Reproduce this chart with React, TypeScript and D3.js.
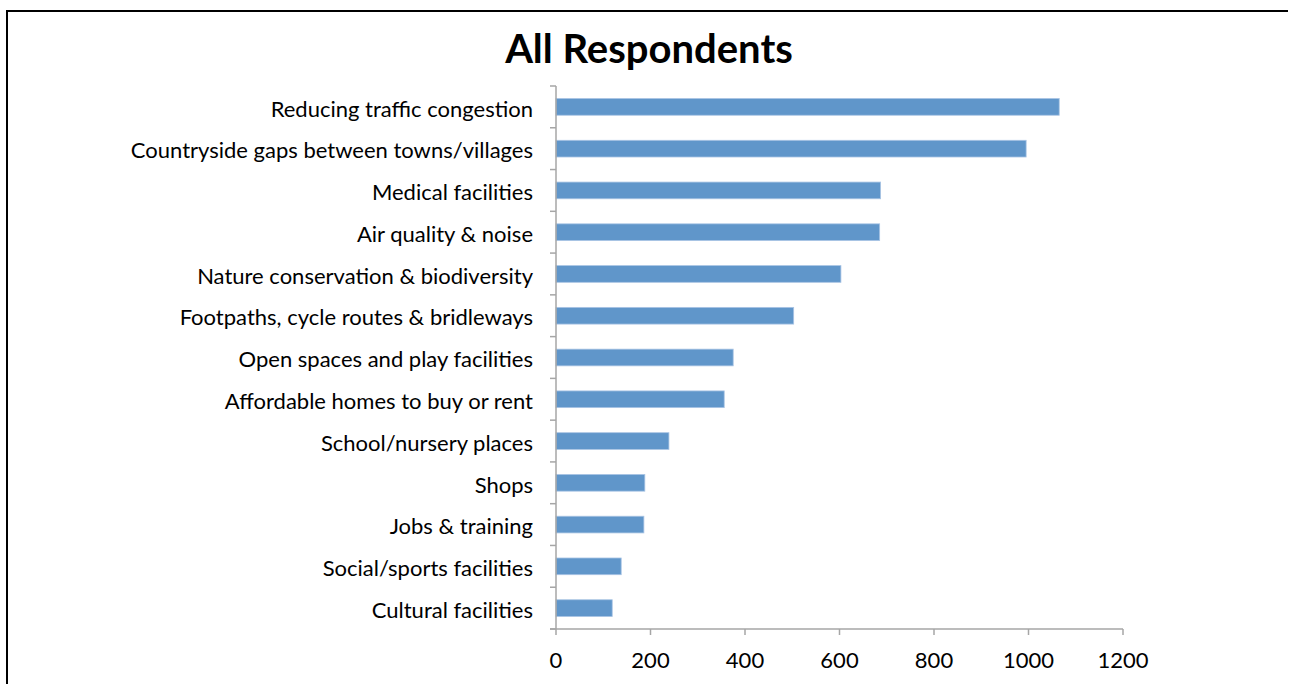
import React from "react";
import * as d3 from "d3";

const categories = [
  "Reducing traffic congestion",
  "Countryside gaps between towns/villages",
  "Medical facilities",
  "Air quality & noise",
  "Nature conservation & biodiversity",
  "Footpaths, cycle routes & bridleways",
  "Open spaces and play facilities",
  "Affordable homes to buy or rent",
  "School/nursery places",
  "Shops",
  "Jobs & training",
  "Social/sports facilities",
  "Cultural facilities",
];
const values = [1065, 995, 687, 685, 603, 503, 375, 356, 239, 188, 186, 138, 119];
const xTicks = [0, 200, 400, 600, 800, 1000, 1200];
const title = "All Respondents";

const W = 1290;
const H = 684;
const FONT = "Lato, 'Open Sans', sans-serif";

export default function App() {
  const x = d3.scaleLinear().domain([0, 1200]).range([556, 1123]);
  const y = d3
    .scaleBand<string>()
    .domain(categories)
    .range([86, 629])
    .paddingInner(0.6)
    .paddingOuter(0.3);
  const bandStep = y.step();
  const axisColor = "#A6A6A6";
  const boundaries = d3.range(categories.length + 1).map((i) => 629 - i * bandStep);

  return (
    <svg
      width={W}
      height={H}
      style={{ position: "absolute", left: 0, top: 0, background: "#fff" }}
      fontFamily={FONT}
    >
      <path d={`M7,${H} V11 H1288`} fill="none" stroke="#000" strokeWidth={2} />
      <text x={649} y={63} textAnchor="middle" fontSize={40} fontWeight={700} fill="#000">
        {title}
      </text>
      {categories.map((c, i) => (
        <g key={c}>
          <rect
            x={x(0)}
            y={y(c)!}
            width={x(values[i]) - x(0)}
            height={y.bandwidth()}
            fill="#6096CA"
            stroke="#A9C4E4"
            strokeWidth={0.8}
          />
          <text
            x={533}
            y={y(c)! + y.bandwidth() / 2 + 2}
            dy="0.35em"
            textAnchor="end"
            fontSize={22}
            fill="#000"
          >
            {c}
          </text>
        </g>
      ))}
      {/* y axis */}
      <line x1={x(0)} x2={x(0)} y1={86} y2={629} stroke={axisColor} strokeWidth={1.5} />
      {boundaries.map((b, i) => (
        <line key={i} x1={x(0) - 6} x2={x(0)} y1={b} y2={b} stroke={axisColor} strokeWidth={1.5} />
      ))}
      {/* x axis */}
      <line x1={x(0) - 6} x2={x(1200)} y1={629} y2={629} stroke={axisColor} strokeWidth={1.5} />
      {xTicks.map((t) => (
        <g key={t}>
          <line x1={x(t)} x2={x(t)} y1={629} y2={635} stroke={axisColor} strokeWidth={1.5} />
          <text x={x(t)} y={668} textAnchor="middle" fontSize={22} fill="#000">
            {t}
          </text>
        </g>
      ))}
    </svg>
  );
}
